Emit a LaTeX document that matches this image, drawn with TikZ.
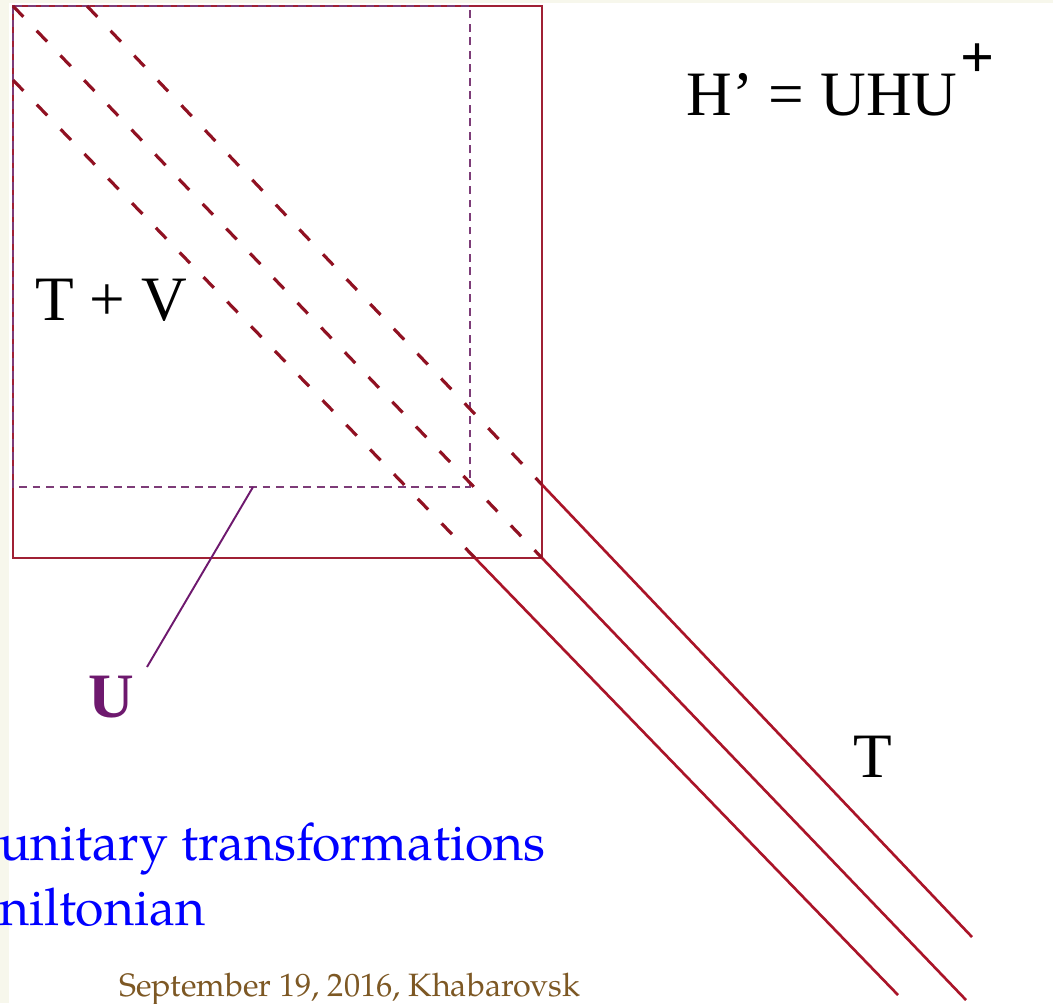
\documentclass[tikz,border=0pt]{standalone}
\usepackage{fontspec}
\setmainfont{Liberation Serif}
\newfontfamily\palfont{TeX Gyre Pagella}
\usepackage{tikz}
\usetikzlibrary{positioning}
\definecolor{mybox}{RGB}{160,32,52}
\definecolor{mydiag}{RGB}{170,20,40}
\definecolor{mypurple}{RGB}{125,60,120}
\definecolor{myplum}{RGB}{110,25,110}
\definecolor{myblue}{RGB}{0,0,255}
\definecolor{mybrown}{RGB}{125,88,36}
\definecolor{mycream}{RGB}{247,247,236}
\tikzset{
  boxline/.style={draw=mybox, line width=1.1pt},
  innerdash/.style={draw=mypurple, line width=0.85pt,
    dash pattern=on 4.5pt off 3.2pt},
  diagdash/.style={draw=mydiag!85!black, line width=1.8pt,
    dash pattern=on 8.5pt off 11pt},
  diagsolid/.style={draw=mydiag, line width=1.5pt},
  ulink/.style={draw=myplum, line width=1.1pt},
  biglabel/.style={inner sep=0pt, anchor=base west,
    font=\fontsize{36}{40}\selectfont},
  title/.style={inner sep=0pt, anchor=base west, text=myblue,
    font=\palfont\fontsize{29.5}{34}\selectfont},
  footer/.style={inner sep=0pt, anchor=base west, text=mybrown,
    font=\palfont\fontsize{18.4}{20}\selectfont}
}

\begin{document}
\begin{tikzpicture}[x=0.02cm, y=-0.02cm]
  % Slide background
  \useasboundingbox (0,0) rectangle (1053,1003);
  \fill[white] (0,0) rectangle (1053,1003);
  \fill[mycream] (0,0) rectangle (9,1003);
  \fill[mycream] (0,0) rectangle (1053,3);

  % Full matrix and the dashed block
  \draw[boxline] (13,6) rectangle (542,558);
  \draw[innerdash] (13,6) rectangle (470,487);

  % Diagonal bands: dashed inside the box, solid outside
  \coordinate (a1) at (87,6);
  \coordinate (b1) at (542,484.7);
  \coordinate (c1) at (972,937);
  \coordinate (a2) at (13,6);
  \coordinate (b2) at (542,558);
  \coordinate (c2) at (966,1000);
  \coordinate (a3) at (13,80);
  \coordinate (b3) at (475,558);
  \coordinate (c3) at (898,995);
  \draw[diagdash] (a1) -- (b1);
  \draw[diagsolid] (b1) -- (c1);
  \draw[diagdash] (a2) -- (b2);
  \draw[diagsolid] (b2) -- (c2);
  \draw[diagdash] (a3) -- (b3);
  \draw[diagsolid] (b3) -- (c3);

  % Labels
  \node[biglabel] (hprime) at (686,116)
    {H’ = UHU\kern2pt\raisebox{22pt}{\bfseries\fontsize{34}{34}\selectfont +}};
  \node[biglabel] (tv) at (35,320) {T + V};
  \node[biglabel] (tdiag) at (853,777) {T};
  \node[biglabel, font=\bfseries\fontsize{36}{40}\selectfont, text=myplum]
    (ulabel) at (88,717) {U};

  % Pointer to the U block
  \coordinate (ufoot) at (253,487);
  \coordinate (utip) at (147,667);
  \draw[ulink] (ufoot) -- (utip);

  % Slide title and footer
  \node[title] (title1) at (-1,860) {unitary transformations};
  \node[title] (title2) at (-1,925) {niltonian};
  \node[footer] (date) at (119,996) {September 19, 2016, Khabarovsk};
\end{tikzpicture}
\end{document}
